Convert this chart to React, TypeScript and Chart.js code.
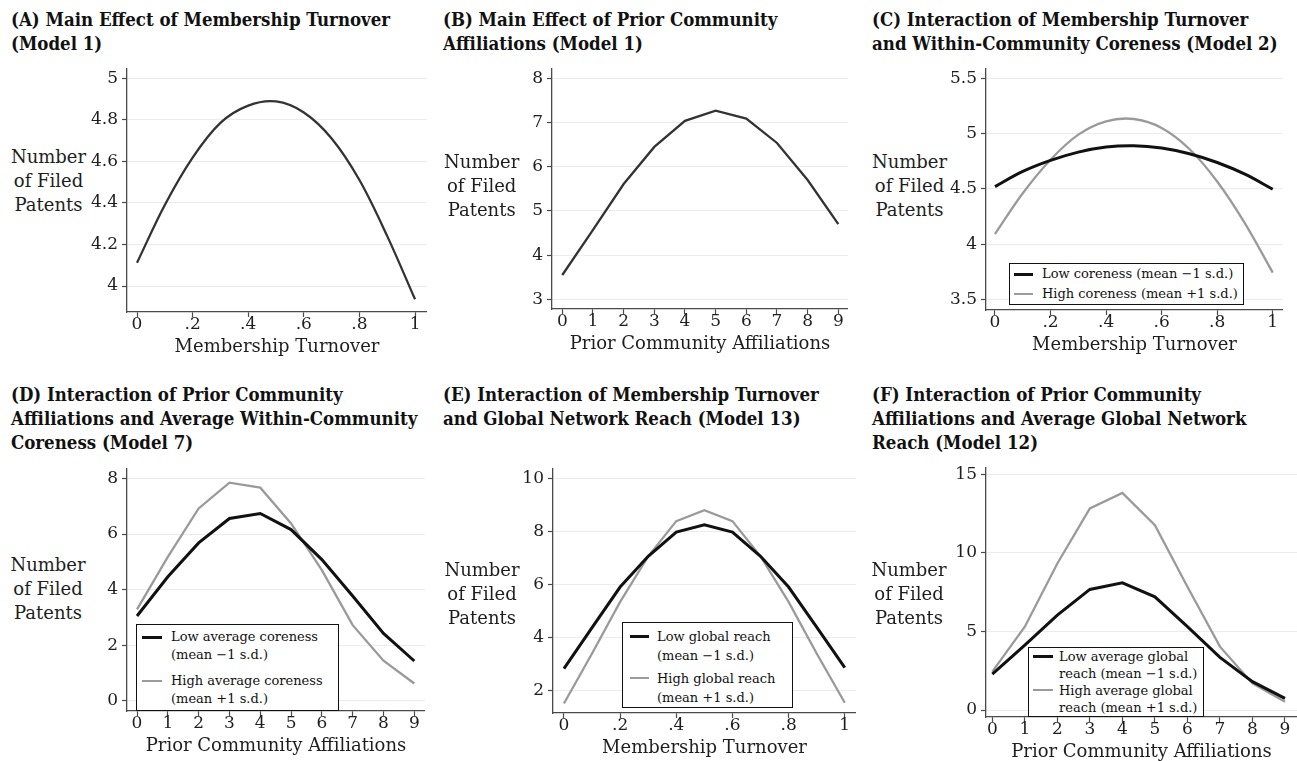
import React, { useEffect, useRef } from "react";
import { Chart, registerables } from "chart.js";

Chart.register(...registerables);

const FONT = "'DejaVu Serif', serif";
const TITLE_FONT = "'DejaVu Serif Condensed', 'DejaVu Serif', serif";

// ---- categories / x values ----
const turnoverX = [0, 0.1, 0.2, 0.3, 0.4, 0.5, 0.6, 0.7, 0.8, 0.9, 1];
const affiliationsX = [0, 1, 2, 3, 4, 5, 6, 7, 8, 9];

// ---- tick labels ----
const turnoverTicks = [0, 0.2, 0.4, 0.6, 0.8, 1];
const affiliationTicks = [0, 1, 2, 3, 4, 5, 6, 7, 8, 9];
const yTicksA = [4, 4.2, 4.4, 4.6, 4.8, 5];
const yTicksB = [3, 4, 5, 6, 7, 8];
const yTicksC = [3.5, 4, 4.5, 5, 5.5];
const yTicksD = [0, 2, 4, 6, 8];
const yTicksE = [2, 4, 6, 8, 10];
const yTicksF = [0, 5, 10, 15];

// ---- series values ----
const seriesA = [4.112, 4.39, 4.618, 4.785, 4.868, 4.888, 4.835, 4.71, 4.51, 4.24, 3.936];
const seriesB = [3.55, 4.57, 5.61, 6.45, 7.04, 7.27, 7.09, 6.54, 5.7, 4.7];
const seriesCLow = [4.521, 4.658, 4.758, 4.833, 4.879, 4.891, 4.87, 4.818, 4.739, 4.633, 4.497];
const seriesCHigh = [4.091, 4.46, 4.764, 4.991, 5.112, 5.133, 5.052, 4.861, 4.567, 4.188, 3.742];
const seriesDLow = [3.05, 4.46, 5.68, 6.56, 6.74, 6.16, 5.08, 3.77, 2.42, 1.43];
const seriesDHigh = [3.29, 5.18, 6.92, 7.85, 7.67, 6.38, 4.7, 2.72, 1.44, 0.62];
const seriesELow = [2.82, 4.37, 5.9, 7.06, 7.98, 8.25, 7.98, 7.06, 5.9, 4.39, 2.86];
const seriesEHigh = [1.5, 3.39, 5.34, 7.06, 8.39, 8.8, 8.39, 7.06, 5.34, 3.39, 1.53];
const seriesFLow = [2.29, 4.13, 6.04, 7.67, 8.09, 7.2, 5.3, 3.35, 1.8, 0.74];
const seriesFHigh = [2.44, 5.3, 9.32, 12.82, 13.81, 11.76, 7.84, 4.03, 1.69, 0.53];

// ---- text ----
const yAxisTitle = ["Number", "of Filed", "Patents"];
const turnoverTitle = "Membership Turnover";
const affiliationsTitle = "Prior Community Affiliations";
const titleA = ["(A) Main Effect of Membership Turnover", "(Model 1)"];
const titleB = ["(B) Main Effect of Prior Community", "Affiliations (Model 1)"];
const titleC = ["(C) Interaction of Membership Turnover", "and Within-Community Coreness (Model 2)"];
const titleD = ["(D) Interaction of Prior Community", "Affiliations and Average Within-Community", "Coreness (Model 7)"];
const titleE = ["(E) Interaction of Membership Turnover", "and Global Network Reach (Model 13)"];
const titleF = ["(F) Interaction of Prior Community", "Affiliations and Average Global Network", "Reach (Model 12)"];
const labelsC = [["Low coreness (mean \u22121 s.d.)"], ["High coreness (mean +1 s.d.)"]];
const labelsD = [["Low average coreness", "(mean \u22121 s.d.)"], ["High average coreness", "(mean +1 s.d.)"]];
const labelsE = [["Low global reach", "(mean \u22121 s.d.)"], ["High global reach", "(mean +1 s.d.)"]];
const labelsF = [["Low average global", "reach (mean \u22121 s.d.)"], ["High average global", "reach (mean +1 s.d.)"]];

// ---- styles ----
const MAIN = "#333333";
const LOW = "#111111";
const HIGH = "#9a9a9a";
const AXIS = "#4a4a4a";
const GRID = "#ececec";
const TEXT = "#1e1e1e";

const Y_W = 70;
const X_H = 46;
const PAD_T = 14;

type Series = { label: string; data: number[]; color: string; width: number };
type Legend = {
  box: { left: number; top: number; width: number; height: number };
  sampleLeft: number;
  sampleWidth: number;
  textLeft: number;
  centers: number[];
  lineHeight: number;
  labels: string[][];
};
type Spec = {
  title: string[];
  titleLeft: number;
  titleTop: number;
  area: { left: number; top: number; right: number; bottom: number };
  xRange: [number, number];
  yRange: [number, number];
  xTicks: number[];
  yTicks: number[];
  xTitle: string;
  yTitleX: number;
  yTitleTop: number;
  xs: number[];
  series: Series[];
  tension: number;
  legend?: Legend;
};

const fmtX = (v: number) => (v === 0 || v === 1 || v >= 2 ? String(v) : String(v).replace(/^0/, ""));
const fmtY = (v: number) => String(v);

const panels: Spec[] = [
  {
    title: titleA, titleLeft: 11, titleTop: 8,
    area: { left: 127, top: 68, right: 427, bottom: 312 },
    xRange: [-0.036, 1.043], yRange: [3.875, 5.048],
    xTicks: turnoverTicks, yTicks: yTicksA, xTitle: turnoverTitle,
    yTitleX: 48.5, yTitleTop: 145, xs: turnoverX, tension: 0.35,
    series: [{ label: "Main effect", data: seriesA, color: MAIN, width: 2.3 }],
  },
  {
    title: titleB, titleLeft: 443, titleTop: 8,
    area: { left: 552, top: 68, right: 848, bottom: 309 },
    xRange: [-0.336, 9.316], yRange: [2.78, 8.233],
    xTicks: affiliationTicks, yTicks: yTicksB, xTitle: affiliationsTitle,
    yTitleX: 481.7, yTitleTop: 150, xs: affiliationsX, tension: 0,
    series: [{ label: "Main effect", data: seriesB, color: MAIN, width: 2.3 }],
  },
  {
    title: titleC, titleLeft: 872, titleTop: 8,
    area: { left: 986, top: 68, right: 1283, bottom: 310 },
    xRange: [-0.0324, 1.037], yRange: [3.403, 5.593],
    xTicks: turnoverTicks, yTicks: yTicksC, xTitle: turnoverTitle,
    yTitleX: 909.5, yTitleTop: 150, xs: turnoverX, tension: 0.35,
    series: [
      { label: labelsC[0].join(" "), data: seriesCLow, color: LOW, width: 3 },
      { label: labelsC[1].join(" "), data: seriesCHigh, color: HIGH, width: 2.3 },
    ],
    legend: {
      box: { left: 1009, top: 263, width: 235, height: 42 },
      sampleLeft: 1014, sampleWidth: 19, textLeft: 1042,
      centers: [274, 294], lineHeight: 20, labels: labelsC,
    },
  },
  {
    title: titleD, titleLeft: 11, titleTop: 383,
    area: { left: 127, top: 468, right: 425, bottom: 711 },
    xRange: [-0.325, 9.347], yRange: [-0.37, 8.37],
    xTicks: affiliationTicks, yTicks: yTicksD, xTitle: affiliationsTitle,
    yTitleX: 48, yTitleTop: 553, xs: affiliationsX, tension: 0,
    series: [
      { label: labelsD[0].join(" "), data: seriesDLow, color: LOW, width: 3 },
      { label: labelsD[1].join(" "), data: seriesDHigh, color: HIGH, width: 2.3 },
    ],
    legend: {
      box: { left: 136, top: 624, width: 203, height: 87 },
      sampleLeft: 142, sampleWidth: 20, textLeft: 171,
      centers: [637, 681], lineHeight: 18, labels: labelsD,
    },
  },
  {
    title: titleE, titleLeft: 443, titleTop: 383,
    area: { left: 553, top: 468, right: 856, bottom: 713 },
    xRange: [-0.039, 1.04], yRange: [1.142, 10.39],
    xTicks: turnoverTicks, yTicks: yTicksE, xTitle: turnoverTitle,
    yTitleX: 482, yTitleTop: 558, xs: turnoverX, tension: 0,
    series: [
      { label: labelsE[0].join(" "), data: seriesELow, color: LOW, width: 3 },
      { label: labelsE[1].join(" "), data: seriesEHigh, color: HIGH, width: 2.3 },
    ],
    legend: {
      box: { left: 622, top: 622, width: 171, height: 86 },
      sampleLeft: 630, sampleWidth: 19, textLeft: 657,
      centers: [636, 678], lineHeight: 19, labels: labelsE,
    },
  },
  {
    title: titleF, titleLeft: 872, titleTop: 383,
    area: { left: 986, top: 467, right: 1297, bottom: 717 },
    xRange: [-0.194, 9.369], yRange: [-0.445, 15.445],
    xTicks: affiliationTicks, yTicks: yTicksF, xTitle: affiliationsTitle,
    yTitleX: 909, yTitleTop: 558, xs: affiliationsX, tension: 0,
    series: [
      { label: labelsF[0].join(" "), data: seriesFLow, color: LOW, width: 3 },
      { label: labelsF[1].join(" "), data: seriesFHigh, color: HIGH, width: 2.3 },
    ],
    legend: {
      box: { left: 1028, top: 647, width: 176, height: 70 },
      sampleLeft: 1033, sampleWidth: 20, textLeft: 1059,
      centers: [656, 690], lineHeight: 17, labels: labelsF,
    },
  },
];

function PanelChart({ spec }: { spec: Spec }) {
  const ref = useRef<HTMLCanvasElement | null>(null);
  const { area } = spec;
  const left = area.left - Y_W;
  const top = area.top - PAD_T;
  const width = area.right - left;
  const height = area.bottom + X_H - top;

  useEffect(() => {
    if (!ref.current) return;
    const chart = new Chart(ref.current, {
      type: "line",
      data: {
        datasets: spec.series.map((s) => ({
          label: s.label,
          data: spec.xs.map((x, i) => ({ x, y: s.data[i] })),
          borderColor: s.color,
          backgroundColor: s.color,
          borderWidth: s.width,
          pointRadius: 0,
          tension: spec.tension,
          fill: false,
        })),
      },
      options: {
        responsive: false,
        maintainAspectRatio: false,
        animation: false,
        devicePixelRatio: 1,
        layout: { padding: { top: PAD_T, left: 0, right: 0, bottom: 0 } },
        plugins: { legend: { display: false }, tooltip: { enabled: false }, title: { display: false } },
        scales: {
          x: {
            type: "linear",
            min: spec.xRange[0],
            max: spec.xRange[1],
            afterBuildTicks: (scale: any) => {
              scale.ticks = spec.xTicks.map((v) => ({ value: v }));
            },
            afterFit: (scale: any) => {
              scale.height = X_H;
            },
            grid: { drawOnChartArea: false, drawTicks: true, tickLength: 5, tickColor: AXIS, tickWidth: 1.2 },
            border: { display: true, color: AXIS, width: 1.3 },
            ticks: {
              color: TEXT,
              font: { family: FONT, size: 17, lineHeight: 1 },
              padding: -1,
              autoSkip: false,
              maxRotation: 0,
              minRotation: 0,
              callback: (v: any) => fmtX(Number(v)),
            },
            title: {
              display: true,
              text: spec.xTitle,
              color: TEXT,
              font: { family: FONT, size: 18, lineHeight: 1.2 },
              padding: { top: 0, bottom: 0 },
            },
          },
          y: {
            type: "linear",
            min: spec.yRange[0],
            max: spec.yRange[1],
            afterBuildTicks: (scale: any) => {
              scale.ticks = spec.yTicks.map((v) => ({ value: v }));
            },
            afterFit: (scale: any) => {
              scale.width = Y_W;
            },
            grid: { color: GRID, lineWidth: 1, drawTicks: true, tickLength: 5, tickColor: AXIS, tickWidth: 1.2 },
            border: { display: true, color: AXIS, width: 1.3 },
            ticks: {
              color: TEXT,
              font: { family: FONT, size: 17 },
              padding: 4,
              autoSkip: false,
              callback: (v: any) => fmtY(Number(v)),
            },
          },
        },
      } as any,
    });
    return () => chart.destroy();
  }, [spec]);

  return (
    <canvas
      ref={ref}
      width={width}
      height={height}
      style={{ position: "absolute", left, top, width, height }}
    />
  );
}

function Panel({ spec }: { spec: Spec }) {
  const lg = spec.legend;
  return (
    <>
      <div
        style={{
          position: "absolute",
          left: spec.titleLeft,
          top: spec.titleTop,
          fontFamily: TITLE_FONT,
          fontWeight: "bold",
          fontSize: 18.5,
          lineHeight: "24px",
          whiteSpace: "nowrap",
          color: "#111",
        }}
      >
        {spec.title.map((t, i) => (
          <div key={i}>{t}</div>
        ))}
      </div>
      <div
        style={{
          position: "absolute",
          left: spec.yTitleX - 60,
          width: 120,
          top: spec.yTitleTop,
          textAlign: "center",
          fontFamily: FONT,
          fontSize: 18,
          lineHeight: "24px",
          color: TEXT,
        }}
      >
        {yAxisTitle.map((t, i) => (
          <div key={i}>{t}</div>
        ))}
      </div>
      <PanelChart spec={spec} />
      {lg && (
        <>
          <div
            style={{
              position: "absolute",
              left: lg.box.left,
              top: lg.box.top,
              width: lg.box.width,
              height: lg.box.height,
              boxSizing: "border-box",
              border: "1.5px solid #111",
              background: "#fff",
            }}
          />
          {lg.labels.map((lines, i) => (
            <React.Fragment key={i}>
              <div
                style={{
                  position: "absolute",
                  left: lg.sampleLeft,
                  width: lg.sampleWidth,
                  top: lg.centers[i] - spec.series[i].width / 2,
                  height: spec.series[i].width,
                  background: spec.series[i].color,
                }}
              />
              <div
                style={{
                  position: "absolute",
                  left: lg.textLeft,
                  top: lg.centers[i] - lg.lineHeight / 2,
                  fontFamily: FONT,
                  fontSize: 13,
                  lineHeight: lg.lineHeight + "px",
                  whiteSpace: "nowrap",
                  color: "#111",
                }}
              >
                {lines.map((t, j) => (
                  <div key={j}>{t}</div>
                ))}
              </div>
            </React.Fragment>
          ))}
        </>
      )}
    </>
  );
}

export default function App() {
  return (
    <div
      style={{
        position: "absolute",
        left: 0,
        top: 0,
        width: 1297,
        height: 761,
        overflow: "hidden",
        background: "#fff",
      }}
    >
      {panels.map((p, i) => (
        <Panel key={i} spec={p} />
      ))}
    </div>
  );
}
